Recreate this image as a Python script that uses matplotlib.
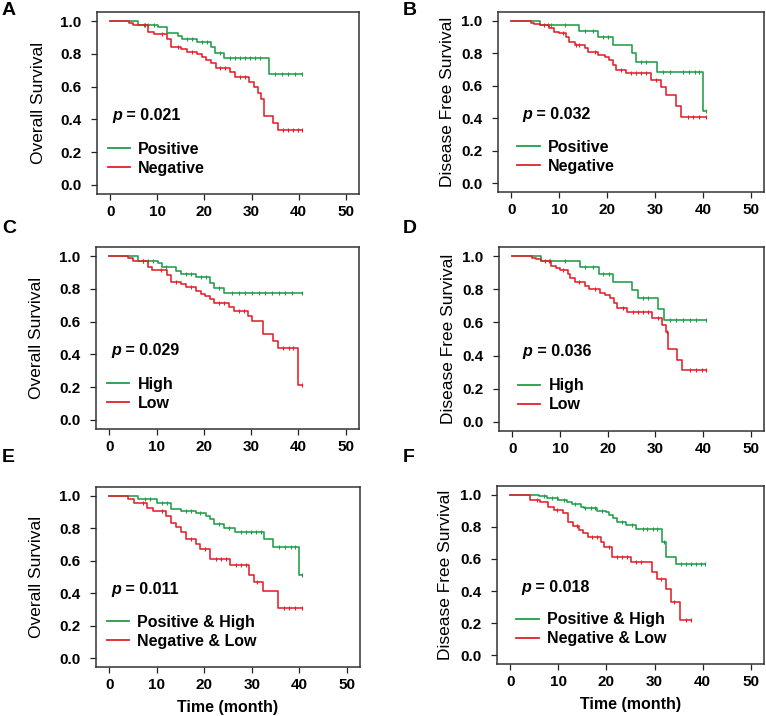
import matplotlib
matplotlib.use('Agg')
import matplotlib.pyplot as plt
import numpy as np

plt.rcParams['font.family'] = ['Liberation Sans', 'DejaVu Sans']

GREEN = '#1f9e49'
RED = '#e3202a'

# ---------------- data ----------------
# Panel A: Overall survival, Positive vs Negative
A_pos_t = [6.0, 10.1, 12.1, 14.3, 15.2, 18.4, 21.3, 22.2, 24.2, 33.7]
A_pos_s = [0.976, 0.961, 0.929, 0.911, 0.892, 0.872, 0.843, 0.807, 0.772, 0.677]
A_pos_c = [7.1, 8.1, 9.2, 16.2, 17.3, 19.4, 20.5, 23.3, 25.4, 26.5, 27.5, 28.6,
           29.7, 30.8, 31.8, 35.0, 36.4, 37.8, 39.2, 40.8]
A_neg_t = [3.9, 4.9, 8.1, 9.3, 12.1, 13.0, 15.1, 16.2, 18.4, 19.4, 20.3, 21.3,
           22.4, 25.4, 26.5, 29.5, 30.5, 31.4, 32.1, 32.6, 34.6, 35.7]
A_neg_s = [0.99, 0.976, 0.931, 0.919, 0.89, 0.843, 0.827, 0.813, 0.797, 0.782,
           0.762, 0.742, 0.711, 0.691, 0.661, 0.63, 0.596, 0.559, 0.522, 0.421,
           0.376, 0.335]
A_neg_c = [7.4, 10.9, 14.3, 17.3, 23.3, 24.4, 27.5, 28.6, 36.7, 37.8, 38.8, 39.9, 40.8]

# Panel B: Disease free survival, Positive vs Negative
B_pos_t = [6.0, 14.2, 18.1, 21.2, 25.2, 26.1, 30.4, 40.0]
B_pos_s = [0.975, 0.938, 0.9, 0.852, 0.805, 0.749, 0.687, 0.444]
B_pos_c = [8.3, 11.1, 15.3, 17.0, 19.1, 20.2, 27.1, 28.2, 31.7, 33.1, 35.8,
           37.2, 38.3, 39.3, 40.6]
B_neg_t = [4.1, 4.8, 5.9, 7.9, 9.0, 10.0, 11.4, 12.1, 13.2, 15.3, 16.0, 18.1,
           19.5, 20.5, 21.2, 21.9, 24.0, 29.2, 31.3, 32.4, 34.4, 35.4]
B_neg_s = [0.99, 0.983, 0.975, 0.955, 0.934, 0.924, 0.903, 0.872, 0.852, 0.831,
           0.811, 0.79, 0.78, 0.759, 0.728, 0.698, 0.677, 0.636, 0.595, 0.543,
           0.475, 0.405]
B_neg_c = [6.9, 7.6, 10.7, 13.5, 14.2, 17.4, 22.9, 25.0, 26.1, 27.1, 28.2, 30.3,
           36.9, 37.9, 39.3, 40.6]

# Panel C: Overall survival, High vs Low
C_high_t = [6.1, 10.3, 11.2, 14.2, 15.2, 18.3, 21.3, 22.2, 24.3]
C_high_s = [0.971, 0.957, 0.936, 0.909, 0.893, 0.872, 0.837, 0.802, 0.776]
C_high_c = [7.2, 8.2, 9.3, 12.1, 16.2, 17.3, 19.4, 20.4, 23.2, 26.0, 27.4, 28.8,
            30.2, 31.6, 33.0, 34.4, 35.8, 37.2, 38.6, 40.7]
C_low_t = [4.0, 5.1, 8.1, 9.1, 12.2, 13.1, 15.1, 16.2, 18.3, 19.4, 20.3, 21.3,
           22.2, 25.3, 26.4, 29.4, 30.2, 32.4, 34.6, 35.6, 40.0]
C_low_s = [0.988, 0.971, 0.936, 0.916, 0.883, 0.844, 0.827, 0.811, 0.786, 0.77,
           0.755, 0.739, 0.714, 0.689, 0.663, 0.636, 0.601, 0.523, 0.481, 0.436,
           0.214]
C_low_c = [7.2, 11.0, 14.2, 17.3, 23.2, 24.3, 27.4, 28.5, 36.8, 37.9, 38.9, 40.7]

# Panel D: Disease free survival, High vs Low
D_high_t = [6.0, 14.1, 18.1, 21.2, 25.2, 26.4, 30.6, 31.8]
D_high_s = [0.970, 0.935, 0.892, 0.843, 0.797, 0.746, 0.681, 0.614]
D_high_c = [7.9, 11.1, 15.3, 17.0, 19.1, 20.2, 27.5, 28.5, 33.1, 34.4, 35.8,
            37.2, 38.6, 40.6]
D_low_t = [4.1, 5.0, 6.1, 8.1, 9.1, 10.0, 11.6, 12.1, 13.2, 15.3, 16.1, 18.3,
           19.5, 20.5, 21.3, 22.0, 24.1, 29.4, 31.5, 32.2, 32.7, 34.6, 35.5]
D_low_s = [0.99, 0.98, 0.97, 0.943, 0.929, 0.919, 0.894, 0.868, 0.841, 0.821,
           0.803, 0.776, 0.766, 0.746, 0.715, 0.685, 0.665, 0.624, 0.587, 0.543,
           0.441, 0.376, 0.313]
D_low_c = [6.9, 7.6, 10.7, 13.9, 17.4, 23.2, 25.4, 26.4, 27.5, 28.5, 30.6, 32.4,
           37.2, 38.6, 39.7, 40.6]

# Panel E: Overall survival, Positive & High vs Negative & Low
E_ph_t = [6.1, 10.0, 13.1, 15.2, 18.2, 20.3, 21.2, 22.1, 24.2, 26.5, 32.6, 34.5, 39.9]
E_ph_s = [0.979, 0.959, 0.922, 0.907, 0.893, 0.876, 0.86, 0.825, 0.804, 0.779,
          0.736, 0.687, 0.515]
E_ph_c = [7.5, 8.6, 11.0, 12.2, 16.2, 17.3, 19.2, 23.2, 25.3, 27.7, 28.8, 29.8,
          30.8, 31.9, 35.7, 37.1, 38.2, 39.2, 40.6]
E_nl_t = [4.0, 5.1, 8.0, 9.1, 12.0, 13.1, 14.1, 15.2, 16.2, 18.3, 19.2, 21.2,
          25.4, 29.5, 30.5, 32.4, 35.5]
E_nl_s = [0.979, 0.959, 0.928, 0.907, 0.876, 0.831, 0.81, 0.777, 0.732, 0.701,
          0.67, 0.608, 0.571, 0.515, 0.468, 0.412, 0.309]
E_nl_c = [7.2, 11.0, 17.3, 20.1, 22.5, 23.5, 24.6, 26.7, 27.7, 28.8, 31.2, 36.8,
          37.8, 39.2, 40.6]

# Panel F: Disease free survival, Positive & High vs Negative & Low
F_ph_t = [5.9, 7.6, 10.0, 11.8, 12.8, 14.6, 15.3, 18.1, 19.8, 20.5, 21.3, 22.2,
          24.1, 26.2, 31.5, 32.4, 34.4]
F_ph_s = [0.99, 0.979, 0.969, 0.958, 0.944, 0.927, 0.917, 0.902, 0.892, 0.875,
          0.854, 0.829, 0.813, 0.785, 0.708, 0.615, 0.569]
F_ph_c = [6.9, 8.6, 9.7, 11.1, 13.5, 15.6, 16.7, 17.7, 19.1, 23.3, 25.4, 27.5,
          28.5, 29.6, 30.6, 32.0, 35.5, 36.5, 37.6, 38.6, 39.7, 40.6]
F_nl_t = [4.1, 6.2, 7.9, 9.0, 10.9, 11.9, 13.0, 14.2, 15.1, 16.1, 18.8, 19.5,
          21.2, 25.2, 29.4, 30.5, 32.4, 33.4, 35.3]
F_nl_s = [0.969, 0.958, 0.927, 0.906, 0.885, 0.829, 0.808, 0.781, 0.76, 0.735,
          0.704, 0.677, 0.615, 0.579, 0.521, 0.473, 0.413, 0.329, 0.219]
F_nl_c = [5.5, 9.7, 13.9, 17.0, 18.1, 20.5, 22.2, 23.3, 24.3, 26.1, 27.1, 31.3,
          34.1, 36.5, 37.6]

x_ticks = [0, 10, 20, 30, 40, 50]
y_ticks = [0.0, 0.2, 0.4, 0.6, 0.8, 1.0]
y_ticklabels = ['0.0', '0.2', '0.4', '0.6', '0.8', '1.0']

panels = [
    dict(letter='A', ylabel='Overall Survival', p='0.021',
         labels=['Positive', 'Negative'],
         curves=[(A_pos_t, A_pos_s, A_pos_c), (A_neg_t, A_neg_s, A_neg_c)]),
    dict(letter='B', ylabel='Disease Free Survival', p='0.032',
         labels=['Positive', 'Negative'],
         curves=[(B_pos_t, B_pos_s, B_pos_c), (B_neg_t, B_neg_s, B_neg_c)]),
    dict(letter='C', ylabel='Overall Survival', p='0.029',
         labels=['High', 'Low'],
         curves=[(C_high_t, C_high_s, C_high_c), (C_low_t, C_low_s, C_low_c)]),
    dict(letter='D', ylabel='Disease Free Survival', p='0.036',
         labels=['High', 'Low'],
         curves=[(D_high_t, D_high_s, D_high_c), (D_low_t, D_low_s, D_low_c)]),
    dict(letter='E', ylabel='Overall Survival', p='0.011',
         labels=['Positive & High', 'Negative & Low'],
         curves=[(E_ph_t, E_ph_s, E_ph_c), (E_nl_t, E_nl_s, E_nl_c)]),
    dict(letter='F', ylabel='Disease Free Survival', p='0.018',
         labels=['Positive & High', 'Negative & Low'],
         curves=[(F_ph_t, F_ph_s, F_ph_c), (F_nl_t, F_nl_s, F_nl_c)]),
]

# layout (pixel boxes: left, top, right, bottom)
W, H = 766, 716
boxes = [(97, 12, 359, 194), (498, 12, 764, 192),
         (96, 247, 359, 429), (499, 247, 764, 431),
         (96, 487, 360, 667), (497, 486, 764, 664)]
letter_pos = [(2, 2), (403, 2), (2, 220), (403, 220), (2, 449), (403, 449)]

fig = plt.figure(figsize=(W / 100, H / 100), dpi=100)
fig.patch.set_facecolor('white')


def km(ax, t, s, c, color):
    times = np.concatenate([[0.0], t])
    surv = np.concatenate([[1.0], s])
    tend = max(c[-1], times[-1])
    x = np.append(times, tend)
    y = np.append(surv, surv[-1])
    line, = ax.step(x, y, where='post', color=color, lw=1.15)
    idx = np.searchsorted(times, c, side='right') - 1
    ax.plot(c, surv[idx], ls='none', marker='|', ms=3.5, mew=0.8, color=color)
    return line


for i, (pn, box) in enumerate(zip(panels, boxes)):
    l, t, r, b = box
    ax = fig.add_axes([l / W, 1 - b / H, (r - l) / W, (b - t) / H])
    handles = []
    for (tt, ss, cc), col in zip(pn['curves'], [GREEN, RED]):
        handles.append(km(ax, tt, ss, cc, col))
    ax.set_xlim(-2.8, 52.8)
    ax.set_ylim(-0.055, 1.055)
    ax.set_xticks(x_ticks)
    ax.set_xticklabels([str(v) for v in x_ticks], fontweight='bold', fontsize=11)
    ax.set_yticks(y_ticks)
    ax.set_yticklabels(y_ticklabels, fontweight='bold', fontsize=11)
    ax.tick_params(axis='y', direction='out', length=4, width=0.9, pad=7, colors='#222222',
                   labelcolor='black')
    ax.tick_params(axis='x', direction='out', length=4, width=0.9, pad=4, colors='#222222',
                   labelcolor='black')
    for sp in ax.spines.values():
        sp.set_linewidth(1.1)
        sp.set_color('#333333')
    ax.set_ylabel(pn['ylabel'], fontsize=12.5)
    right_col = (i % 2 == 1)
    ax.yaxis.set_label_coords(-0.163 if right_col else -0.196, 0.5)
    if i >= 4:
        ax.set_xlabel('Time (month)', fontsize=11.5, fontweight='bold', labelpad=6)

    # p-value
    px = 0.09 if right_col else 0.057
    tp = ax.text(px, 0.405, 'p', transform=ax.transAxes, fontsize=11.5,
                 fontweight='bold', fontstyle='italic', va='baseline', ha='left')
    ax.annotate(' = ' + pn['p'], xy=(1, 0), xycoords=tp, va='bottom', ha='left',
                fontsize=11.5, fontweight='bold')

    leg = ax.legend(handles, pn['labels'], loc='center left',
                    bbox_to_anchor=(0.072 if right_col else 0.042, 0.195),
                    frameon=False, borderpad=0, borderaxespad=0,
                    handlelength=1.4, handletextpad=0.5, labelspacing=0.25,
                    prop={'weight': 'bold', 'size': 11.5})
    for lh in leg.legend_handles:
        lh.set_linewidth(1.3)

    lx, ly = letter_pos[i]
    fig.text(lx / W, 1 - ly / H, pn['letter'], fontsize=14, fontweight='bold',
             va='top', ha='left')

fig.savefig('out.png', dpi=100, facecolor='white')
